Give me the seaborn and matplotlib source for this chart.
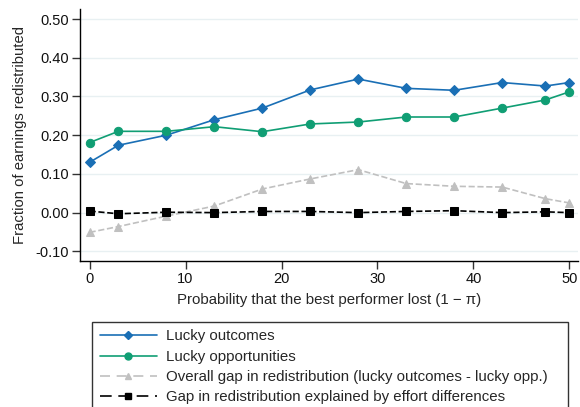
import matplotlib
matplotlib.use("Agg")
import matplotlib.pyplot as plt
import seaborn as sns
import pandas as pd

prob_lost = [0, 3, 8, 13, 18, 23, 28, 33, 38, 43, 47.5, 50]
lucky_outcomes = [0.130, 0.174, 0.200, 0.240, 0.270, 0.317, 0.345, 0.321, 0.316, 0.336, 0.327, 0.336]
lucky_opps = [0.181, 0.210, 0.210, 0.222, 0.209, 0.229, 0.234, 0.247, 0.247, 0.270, 0.291, 0.312]
overall_gap = [-0.051, -0.036, -0.009, 0.017, 0.061, 0.087, 0.111, 0.075, 0.068, 0.066, 0.036, 0.025]
effort_gap = [0.004, -0.003, 0.001, 0.000, 0.003, 0.003, 0.000, 0.003, 0.005, 0.000, 0.002, 0.000]

labels = ["Lucky outcomes", "Lucky opportunities",
          "Overall gap in redistribution (lucky outcomes - lucky opp.)",
          "Gap in redistribution explained by effort differences"]
yticks = [-0.10, 0.00, 0.10, 0.20, 0.30, 0.40, 0.50]
xticks = [0, 10, 20, 30, 40, 50]

sns.set_theme(style="white")
plt.rcParams['font.family'] = ['Liberation Sans', 'DejaVu Sans']

fig = plt.figure(figsize=(5.8, 4.07), dpi=100)
ax = fig.add_axes([80/580, 1-261/407, (578-80)/580, (261-9)/407])

series = [
    (lucky_outcomes, "#1a6fb5", "D", 5, "-", None),
    (lucky_opps, "#109e74", "o", 6, "-", None),
    (overall_gap, "#c0c0c0", "^", 6, "--", (6, 4)),
    (effort_gap, "#000000", "s", 6, "--", (7, 4)),
]
handles = []
for vals, col, mk, ms, ls, dash in series:
    df = pd.DataFrame({"x": prob_lost, "y": vals})
    kw = dict(dashes=dash) if dash else {}
    sns.lineplot(data=df, x="x", y="y", ax=ax, color=col, marker=mk,
                 markersize=ms, markeredgecolor=col, linewidth=1.2,
                 linestyle=ls, **kw)
    h, = ax.plot([], [], color=col, marker=mk, markersize=ms - 1,
                 markeredgecolor=col, linewidth=1.2, linestyle=ls)
    if dash:
        h.set_dashes(dash)
    handles.append(h)

ax.set_xlim(-1, 50.9)
ax.set_ylim(-0.125, 0.526)
ax.set_yticks(yticks)
ax.set_yticklabels([f"{v:.2f}" for v in yticks])
ax.set_xticks(xticks)
ax.grid(axis="y", color="#e8f0f2", linewidth=1)
ax.set_axisbelow(True)
for s in ["top", "right"]:
    ax.spines[s].set_visible(False)
for s in ["left", "bottom"]:
    ax.spines[s].set_color("#000000")
    ax.spines[s].set_linewidth(1.0)
ax.tick_params(axis="both", which="both", length=5.5, width=1, color="#333333",
               direction="out", labelsize=10.5, left=True, bottom=True,
               labelcolor="#111111", pad=2.5)
ax.set_xlabel("Probability that the best performer lost (1 \u2212 \u03c0)", fontsize=10.8, labelpad=5)
ax.set_ylabel("Fraction of earnings redistributed", fontsize=10.7, labelpad=6)

leg = fig.legend(handles, labels, loc="lower left",
                 bbox_to_anchor=(92/580, -0.012, (568-92)/580, (407-318)/407),
                 mode="expand", ncol=1, fontsize=10.8, frameon=True, fancybox=False,
                 edgecolor="#000000", handlelength=3.8, handletextpad=0.6,
                 borderpad=0.5, labelspacing=0.42, borderaxespad=0)
leg.get_frame().set_linewidth(1.0)

fig.savefig("out.png", dpi=100)
